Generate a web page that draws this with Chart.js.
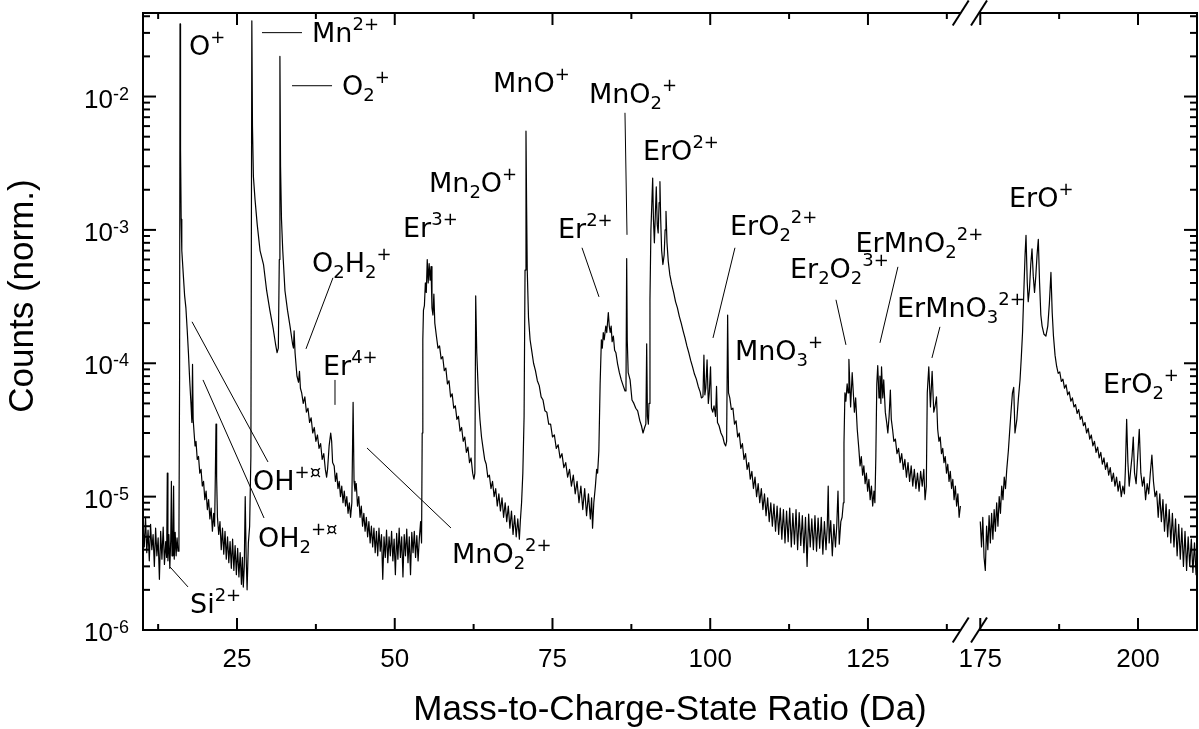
<!DOCTYPE html>
<html lang="en">
<head>
<meta charset="utf-8">
<title>Mass spectrum</title>
<script src="https://cdn.jsdelivr.net/npm/chart.js@4/dist/chart.umd.min.js"></script>
<style>
   html, body { margin: 0; padding: 0; background: #ffffff; }
   #spectrumChart { display: block; }
</style>
</head>
<body>
<canvas id="spectrumChart" width="1199" height="729"></canvas>
<script>
// spectrum: [mass-to-charge (Da), counts (norm.)]
const spectrumOxygen = [
   [10.1,6.0e-6],[10.3,4.2e-6],[10.5,7.0e-6],[10.7,3.8e-6],[10.9,5.6e-6],[11.1,3.3e-6],[11.3,6.2e-6],[11.5,4.0e-6],
   [11.7,5.2e-6],[11.9,3.0e-6],[12.1,5.8e-6],[12.3,3.6e-6],[12.5,4.9e-6],[12.7,2.4e-6],[12.9,5.5e-6],[13.1,3.4e-6],
   [13.3,5.9e-6],[13.5,3.1e-6],[13.7,4.6e-6],[13.85,3.5e-6],[13.95,1.5e-5],[14.05,3.3e-6],[14.2,5.2e-6],[14.35,2.9e-6],
   [14.5,4.8e-6],[14.6,1.3e-5],[14.7,3.6e-6],[14.85,5.0e-6],[14.95,1.2e-5],[15.05,3.4e-6],[15.2,5.4e-6],[15.35,3.6e-6],
   [15.5,4.9e-6],[15.65,3.9e-6],[15.8,5.5e-6],[15.9,8e-5],[15.97,3.5e-2],[16.05,4e-3],[16.15,1.2e-3],[16.25,7e-4],
   [16.5,4.5e-4],[16.7,3.2e-4],[16.9,2.6e-4],[17.1,1.8e-4],[17.3,1.2e-4],[17.5,7.5e-5],[17.7,5e-5],[17.85,3.6e-5],
   [17.95,9.8e-5],[18.05,3.8e-5],[18.2,3.0e-5],[18.35,2.4e-5],[18.5,2.6e-5],[18.7,1.9e-5],[18.9,2.0e-5],[19.1,1.5e-5],
   [19.3,1.6e-5],[19.5,1.2e-5],[19.7,1.3e-5],[19.9,9.5e-6],[20.1,1.1e-5],[20.3,8.0e-6],[20.5,9.5e-6],[20.7,6.8e-6],
   [20.9,8.2e-6],[21.1,5.5e-6],[21.3,7.5e-6],[21.45,6.0e-6],[21.57,1.5e-5],[21.67,3.5e-5],[21.77,1.4e-5],[21.9,7e-6],
   [22.1,5.2e-6],[22.3,6.5e-6],[22.5,4.0e-6],[22.7,5.8e-6],[22.9,3.7e-6],[23.1,5.5e-6],[23.3,3.4e-6],[23.5,5.0e-6],
   [23.7,3.2e-6],[23.9,4.6e-6],[24.1,2.9e-6],[24.3,4.8e-6],[24.5,2.8e-6],[24.7,4.3e-6],[24.9,2.6e-6],[25.1,4.1e-6],
   [25.3,2.5e-6],[25.5,3.8e-6],[25.7,2.2e-6],[25.85,3.5e-6],[26.0,2.1e-6],[26.15,3.0e-6],[26.3,1.0e-5],[26.45,3.5e-6],
   [26.6,2.0e-6],[26.8,4.5e-6],[27.0,6e-6],[27.2,2e-5]
];

const spectrumManganese = [
   [27.35,3.7e-2],[27.45,6e-3],[27.6,2.5e-3],[27.85,1.7e-3],[28.2,1.1e-3],[28.65,7e-4],[29.2,5.5e-4],[29.7,3.5e-4],
   [30.2,2.5e-4],[30.75,1.8e-4],[31.1,1.4e-4],[31.35,1.2e-4],[31.55,1.3e-4],[31.7,6e-4],[31.8,2.0e-2],[31.9,3e-3],
   [32.05,1.2e-3],[32.25,7e-4],[32.6,3.5e-4],[33.0,2.5e-4],[33.4,1.9e-4],[33.8,1.4e-4],[33.95,1.3e-4],[34.05,1.75e-4],
   [34.2,1.2e-4],[34.5,8e-5],[34.75,7.2e-5],[34.9,8.7e-5],[35.05,6.5e-5],[35.25,6.0e-5],[35.5,5.0e-5],[35.75,5.6e-5],
   [36.0,4.3e-5],[36.25,4.6e-5],[36.5,3.6e-5],[36.75,3.9e-5],[37.0,3.0e-5],[37.25,3.3e-5],[37.5,2.6e-5],[37.75,2.9e-5],
   [38.0,2.3e-5],[38.25,2.5e-5],[38.5,1.9e-5],[38.75,2.1e-5],[39.0,1.6e-5],[39.2,1.4e-5],[39.35,1.6e-5],[39.6,2.4e-5],
   [39.85,3.0e-5],[40.0,2.6e-5],[40.15,1.8e-5],[40.4,1.7e-5],[40.6,1.3e-5],[40.8,1.5e-5],[41.0,1.15e-5],[41.2,1.3e-5],
   [41.4,1.0e-5],[41.6,1.2e-5],[41.8,9.0e-6],[42.0,1.1e-5],[42.2,8.5e-6],[42.4,1.0e-5],[42.6,7.5e-6],[42.8,9.0e-6],
   [43.0,7.0e-6],[43.2,9e-6],[43.4,5.1e-5],[43.55,1.3e-5],[43.7,1.1e-5],[43.9,1.25e-5],[44.1,8.5e-6],[44.3,1.0e-5],
   [44.5,7.0e-6],[44.7,8.5e-6],[44.9,6.0e-6],[45.1,7.5e-6],[45.3,5.5e-6],[45.5,7.0e-6],[45.7,5.0e-6],[45.9,6.5e-6],
   [46.1,4.5e-6],[46.3,6.0e-6],[46.5,4.2e-6],[46.7,5.8e-6],[46.9,3.8e-6],[47.1,5.5e-6],[47.3,3.6e-6],[47.5,5.8e-6],
   [47.7,3.9e-6],[47.9,5.2e-6],[48.1,2.4e-6],[48.3,5.0e-6],[48.5,3.5e-6],[48.7,5.6e-6],[48.9,3.2e-6],[49.1,5.0e-6],
   [49.3,3.6e-6],[49.5,5.5e-6],[49.7,3.3e-6],[49.9,4.8e-6],[50.1,2.6e-6],[50.3,5.3e-6],[50.5,3.4e-6],[50.7,5.8e-6],
   [50.9,3.5e-6],[51.1,5.0e-6],[51.3,2.5e-6],[51.5,5.2e-6],[51.7,3.6e-6],[51.9,5.7e-6],[52.1,3.2e-6],[52.3,5.0e-6],
   [52.5,2.6e-6],[52.7,5.4e-6],[52.9,3.8e-6],[53.1,5.5e-6],[53.3,3.5e-6],[53.5,5.1e-6],[53.7,3.3e-6],[53.9,4.9e-6],
   [54.1,6.5e-6],[54.25,4.5e-6]
];

const spectrumErbium3 = [
   [54.35,3e-5],[54.45,1.5e-4],[54.55,2.5e-4],[54.7,2.7e-4],[54.85,4.0e-4],[55.0,3.4e-4],[55.15,6.0e-4],[55.3,4.0e-4],
   [55.45,5.6e-4],[55.6,4.2e-4],[55.75,5.3e-4],[55.9,2.6e-4],[56.05,2.3e-4],[56.2,3.3e-4],[56.35,2.0e-4],[56.6,1.6e-4],
   [56.85,1.3e-4],[57.1,1.35e-4],[57.35,1.08e-4],[57.6,1.12e-4],[57.85,8.8e-5],[58.1,9.2e-5],[58.35,7.0e-5],[58.6,7.4e-5],
   [58.85,5.6e-5],[59.1,5.9e-5],[59.35,4.6e-5],[59.6,4.8e-5],[59.85,3.8e-5],[60.1,4.0e-5],[60.35,3.1e-5],[60.6,3.3e-5],
   [60.85,2.6e-5],[61.1,2.8e-5],[61.35,2.15e-5],[61.6,2.35e-5],[61.85,1.8e-5],[62.1,1.95e-5],[62.35,1.5e-5],[62.55,1.35e-5],
   [62.7,1.5e-5],[62.83,3.2e-4],[63.0,1.2e-4],[63.25,6e-5],
   [63.5,3.8e-5],[63.75,2.8e-5],[64.0,2.3e-5],[64.25,1.9e-5],[64.5,1.75e-5],[64.75,1.4e-5],[65.0,1.45e-5],[65.25,1.15e-5],
   [65.5,1.3e-5],[65.75,1.0e-5],[66.0,1.15e-5],[66.25,8.5e-6],[66.5,1.05e-5],[66.75,7.8e-6],[67.0,9.8e-6],[67.25,7.0e-6],
   [67.5,9.0e-6],[67.75,6.5e-6],[68.0,8.5e-6],[68.25,5.8e-6],[68.5,7.8e-6],[68.75,5.2e-6],[69.0,7.2e-6],[69.25,5.0e-6],
   [69.5,6.8e-6],[69.75,4.8e-6],[69.9,6.5e-6],[70.1,9e-6],[70.3,1.5e-5],[70.5,4e-5],[70.65,5e-4],[70.8,5.5e-3],
   [70.9,1.5e-3],[71.0,5e-4],[71.2,2.2e-4],[71.45,1.5e-4],[71.7,1.25e-4],[72.0,1.0e-4],[72.3,8.8e-5],[72.6,7.4e-5],
   [72.9,6.8e-5],[73.2,5.6e-5],[73.5,5.3e-5],[73.8,4.4e-5],[74.1,4.3e-5],[74.4,3.5e-5],[74.7,3.5e-5],[75.0,2.8e-5],
   [75.3,2.9e-5],[75.6,2.3e-5],[75.9,2.45e-5],[76.2,1.95e-5],[76.5,2.1e-5],[76.8,1.65e-5],[77.1,1.8e-5],[77.4,1.4e-5],
   [77.7,1.6e-5],[78.0,1.2e-5],[78.3,1.45e-5],[78.6,1.05e-5],[78.9,1.3e-5],[79.2,9.0e-6],[79.5,1.2e-5],[79.8,8.0e-6],
   [80.1,1.15e-5],[80.4,7.2e-6],[80.7,1.05e-5],[81.0,6.8e-6],[81.2,9.8e-6],[81.35,5.8e-6],[81.55,9.0e-6]
];

const spectrumErbium2 = [
   [81.8,1.2e-5],[82.0,1.6e-5],[82.15,1.5e-5],[82.35,2.2e-5],[82.55,7e-5],[82.75,1.5e-4],[82.9,1.3e-4],[83.05,1.7e-4],
   [83.2,1.5e-4],[83.45,1.9e-4],[83.6,1.7e-4],[83.85,2.4e-4],[84.0,1.9e-4],[84.15,1.7e-4],[84.3,1.9e-4],[84.45,1.45e-4],
   [84.65,1.6e-4],[84.85,1.25e-4],[85.05,1.2e-4],[85.3,1.0e-4],[85.6,8.5e-5],[85.9,7.5e-5],[86.2,6.8e-5],[86.5,6.2e-5],
   [86.65,6.5e-5],[86.76,6.1e-4],[86.85,1.5e-4],[87.0,8.5e-5],[87.3,7.5e-5],[87.6,5.3e-5],[87.9,5.0e-5],[88.2,4.6e-5],
   [88.5,4.4e-5],[88.85,3.7e-5],[89.1,3.4e-5],[89.35,3.0e-5],[89.6,3.3e-5],[89.8,3.5e-5],[89.93,1.4e-4],[90.05,4e-5],
   [90.2,3.5e-5],[90.3,5.0e-5],[90.45,3e-4],[90.6,1.0e-3],[90.75,1.6e-3],[90.88,2.45e-3],[91.0,1.2e-3],[91.15,8.0e-4],
   [91.3,1.3e-3],[91.45,2.1e-3],[91.6,1.1e-3],[91.75,9.5e-4],[91.9,1.6e-3],[92.03,2.3e-3],[92.15,1.2e-3],[92.3,7.0e-4],
   [92.5,5.5e-4],[92.7,6.5e-4],[92.85,1.0e-3],[92.99,1.38e-3],[93.15,8e-4],[93.35,5.8e-4],[93.6,4.6e-4],[93.9,3.9e-4],
   [94.2,3.4e-4],[94.5,2.9e-4],[94.8,2.6e-4],[95.1,2.25e-4],[95.4,2.0e-4],[95.7,1.75e-4],[96.0,1.55e-4],[96.3,1.35e-4],
   [96.6,1.2e-4],[96.9,1.05e-4],[97.2,9.4e-5],[97.5,8.3e-5],[97.8,7.6e-5],[98.1,6.7e-5],[98.4,6.1e-5],[98.6,5.5e-5],
   [98.85,5.6e-5],[99.0,1.15e-4],[99.15,5.8e-5],[99.3,6.5e-5],[99.5,1.06e-4],[99.7,5.0e-5],[99.85,6.0e-5],[100.05,9.4e-5],
   [100.2,4.6e-5],[100.4,4.3e-5],[100.6,4.8e-5],[100.85,4.0e-5],[101.0,6.7e-5],[101.15,3.6e-5],[101.4,3.4e-5],[101.7,3.0e-5],
   [102.0,2.8e-5],[102.25,2.5e-5],[102.45,2.4e-5],[102.6,2.6e-5],[102.76,2.3e-4],[102.9,6e-5]
];

const spectrumTail = [
   [103.1,5.5e-5],[103.35,4.5e-5],[103.6,4.6e-5],[103.85,3.5e-5],[104.1,3.7e-5],[104.35,2.8e-5],[104.6,3.0e-5],[104.85,2.3e-5],
   [105.1,2.5e-5],[105.35,1.9e-5],[105.6,2.1e-5],[105.85,1.6e-5],[106.1,1.8e-5],[106.35,1.35e-5],[106.6,1.55e-5],[106.85,1.15e-5],
   [107.1,1.4e-5],[107.35,1.0e-5],[107.6,1.25e-5],[107.85,9.0e-6],[108.1,1.15e-5],[108.35,8.0e-6],[108.6,1.05e-5],[108.85,7.2e-6],
   [109.1,9.8e-6],[109.35,6.5e-6],[109.6,9.0e-6],[109.85,6.0e-6],[110.1,8.8e-6],[110.35,5.5e-6],[110.6,8.5e-6],[110.85,5.2e-6],
   [111.1,8.2e-6],[111.35,4.8e-6],[111.6,8.0e-6],[111.85,4.5e-6],[112.1,7.8e-6],[112.35,4.6e-6],[112.6,8.2e-6],[112.85,4.2e-6],
   [113.1,7.5e-6],[113.35,4.4e-6],[113.6,8.0e-6],[113.85,4.0e-6],[114.1,7.6e-6],[114.35,4.3e-6],[114.6,7.2e-6],[114.85,3.8e-6],
   [115.1,7.0e-6],[115.35,3.0e-6],[115.6,7.4e-6],[115.85,4.2e-6],[116.1,6.8e-6],[116.35,4.0e-6],[116.6,7.2e-6],[116.85,3.9e-6],
   [117.1,6.9e-6],[117.35,4.1e-6],[117.6,7.0e-6],[117.85,3.7e-6],[118.1,6.5e-6],[118.35,4.0e-6],[118.55,6.0e-6],[118.7,1.2e-5],
   [118.85,4.5e-6],[119.1,6.6e-6],[119.35,3.6e-6],[119.6,6.2e-6],[119.85,4.2e-6],[120.05,6.0e-6],[120.25,1.1e-5],[120.45,4.4e-6],
   [120.7,6.5e-6],[120.9,7e-6],[121.1,9e-6],[121.2,2.5e-5],[121.35,6e-5],[121.5,5.2e-5],[121.7,7e-5],[121.85,6e-5],
   [121.98,1.07e-4],[122.25,4.7e-5],[122.5,8.5e-5],[122.85,4.3e-5],[123.05,5.5e-5],[123.3,3.2e-5],[123.55,2.3e-5],[123.75,1.7e-5],
   [123.95,2.0e-5],[124.15,1.45e-5],[124.35,1.7e-5],[124.55,1.25e-5],[124.75,1.5e-5],[124.95,1.1e-5],[125.15,1.35e-5],[125.35,9.5e-6],
   [125.55,1.2e-5],[125.75,8.5e-6],[125.95,1.1e-5],[126.1,9e-6],[126.25,2e-5],[126.4,7e-5],[126.55,9.6e-5],[126.75,5.5e-5],
   [126.9,8e-5],[127.05,5e-5],[127.15,9.4e-5],[127.35,5.5e-5],[127.5,7.5e-5],[127.75,4.3e-5],[128.0,3.5e-5],[128.15,3.0e-5],
   [128.35,4e-5],[128.55,6.3e-5],[128.7,3.8e-5],[128.9,3.2e-5],[129.1,2.6e-5],[129.35,2.7e-5],[129.6,2.1e-5],[129.85,2.3e-5],
   [130.1,1.8e-5],[130.35,2.1e-5],[130.6,1.6e-5],[130.85,1.9e-5],[131.1,1.4e-5],[131.35,1.8e-5],[131.6,1.3e-5],[131.85,1.7e-5],
   [132.1,1.2e-5],[132.35,1.6e-5],[132.6,1.15e-5],[132.85,1.5e-5],[133.1,1.1e-5],[133.35,1.55e-5],[133.6,1.2e-5],[133.85,1.6e-5],
   [134.05,9.5e-6],[134.25,1.2e-5],[134.4,6e-5],[134.64,9.4e-5],[134.9,4.7e-5],[135.17,8.7e-5],[135.43,4.3e-5],[135.65,4.8e-5],
   [135.86,5.6e-5],[136.05,3.2e-5],[136.25,2.6e-5],[136.45,2.8e-5],[136.65,2.1e-5],[136.85,2.3e-5],[137.05,1.8e-5],[137.25,2.0e-5],
   [137.45,1.5e-5],[137.65,1.75e-5],[137.85,1.3e-5],[138.05,1.55e-5],[138.25,1.15e-5],[138.45,1.35e-5],[138.65,9.5e-6],[138.85,1.2e-5],
   [139.05,8.5e-6],[139.25,1.05e-5],[139.45,7.0e-6],[139.65,8.5e-6]
];

const spectrumHigh = [
   [175.0,6.5e-6],[175.2,4.2e-6],[175.4,7.0e-6],[175.6,3.5e-6],[175.8,2.8e-6],[176.0,6.0e-6],[176.2,4.0e-6],[176.4,7.2e-6],
   [176.6,4.5e-6],[176.8,7.5e-6],[177.0,4.8e-6],[177.2,8.0e-6],[177.4,5.5e-6],[177.6,9.0e-6],[177.8,6.0e-6],[178.0,1.0e-5],
   [178.2,7.5e-6],[178.4,1.2e-5],[178.6,9.5e-6],[178.8,1.4e-5],[179.0,1.15e-5],[179.2,1.6e-5],[179.45,2.2e-5],[179.7,3.3e-5],
   [179.9,4.5e-5],[180.1,6.0e-5],[180.3,6.6e-5],[180.5,3.0e-5],[180.8,3.8e-5],[181.05,5.5e-5],[181.3,7.5e-5],[181.5,1.1e-4],
   [181.7,1.7e-4],[181.9,3.4e-4],[182.1,6.5e-4],[182.25,9.1e-4],[182.45,4.0e-4],[182.6,2.9e-4],[182.8,3.6e-4],[183.0,5.5e-4],
   [183.2,7.2e-4],[183.4,4.5e-4],[183.6,3.4e-4],[183.8,4.5e-4],[184.0,6.5e-4],[184.2,8.5e-4],[184.4,4.0e-4],[184.6,2.3e-4],
   [184.8,1.9e-4],[185.1,1.65e-4],[185.4,1.6e-4],[185.7,1.9e-4],[185.95,2.8e-4],[186.2,4.8e-4],[186.4,2.4e-4],[186.6,1.6e-4],
   [186.85,1.15e-4],[187.1,9.5e-5],[187.35,8.4e-5],[187.6,8.6e-5],[187.85,7.3e-5],[188.1,7.6e-5],[188.35,6.5e-5],[188.6,6.9e-5],
   [188.85,5.8e-5],[189.1,6.1e-5],[189.35,5.2e-5],[189.6,5.5e-5],[189.85,4.7e-5],[190.1,4.9e-5],[190.35,4.2e-5],[190.6,4.5e-5],
   [190.85,3.8e-5],[191.1,4.0e-5],[191.35,3.4e-5],[191.6,3.6e-5],[191.85,3.0e-5],[192.1,3.25e-5],[192.35,2.7e-5],[192.6,2.9e-5],
   [192.85,2.4e-5],[193.1,2.6e-5],[193.35,2.15e-5],[193.6,2.35e-5],[193.85,1.95e-5],[194.1,2.15e-5],[194.35,1.75e-5],[194.6,1.95e-5],
   [194.85,1.6e-5],[195.1,1.8e-5],[195.35,1.45e-5],[195.6,1.65e-5],[195.85,1.3e-5],[196.1,1.5e-5],[196.35,1.2e-5],[196.6,1.4e-5],
   [196.85,1.1e-5],[197.1,1.3e-5],[197.35,1.0e-5],[197.6,1.2e-5],[197.85,1.05e-5],[198.0,1.6e-5],[198.2,3.8e-5],
   [198.4,1.8e-5],[198.6,1.2e-5],[198.85,1.6e-5],[199.05,2.0e-5],[199.25,2.8e-5],[199.45,1.5e-5],[199.7,1.25e-5],[199.95,2.0e-5],
   [200.2,3.2e-5],[200.45,1.5e-5],[200.7,1.2e-5],[200.95,1.4e-5],[201.2,9.5e-6],[201.45,1.25e-5],[201.7,1.05e-5],[201.95,1.5e-5],
   [202.2,2.05e-5],[202.45,1.3e-5],[202.7,1.0e-5],[202.95,1.1e-5],[203.2,7.0e-6],[203.45,1.05e-5],[203.7,6.5e-6],[203.95,9.5e-6],
   [204.2,5.5e-6],[204.45,8.8e-6],[204.7,5.0e-6],[204.95,8.0e-6],[205.2,4.5e-6],[205.45,7.5e-6],[205.7,4.2e-6],[205.95,6.8e-6],
   [206.2,3.6e-6],[206.45,6.2e-6],[206.7,3.4e-6],[206.95,5.8e-6],[207.2,3.0e-6],[207.45,5.5e-6],[207.7,2.8e-6],[207.95,5.0e-6],
   [208.2,3.0e-6],[208.45,4.8e-6],[208.7,2.7e-6],[208.95,4.5e-6],[209.2,2.6e-6],[209.4,4.0e-6]
];

// axis ticks (Da) and decades of the log axis
const majorTicksDa = [25, 50, 75, 100, 125, 175, 200];
const minorTicksDa = [12.5, 37.5, 62.5, 87.5, 112.5, 137.5, 187.5];
const decadeExponents = [-6, -5, -4, -3, -2];

// ion labels: text with _{sub} / ^{sup}, anchored at (mass, log10 counts) of the left baseline
const ionLabels = [
   { text: "O^{+}", mass: 17.39, logCount: -1.686 },
   { text: "Mn^{2+}", mass: 36.89, logCount: -1.589 },
   { text: "O_{2}^{+}", mass: 41.64, logCount: -1.987 },
   { text: "O_{2}H_{2}^{+}", mass: 36.89, logCount: -3.314 },
   { text: "Er^{4+}", mass: 38.63, logCount: -4.087 },
   { text: "OH^{+¤}", mass: 27.54, logCount: -4.95 },
   { text: "OH_{2}^{+¤}", mass: 28.33, logCount: -5.377 },
   { text: "Si^{2+}", mass: 17.55, logCount: -5.872 },
   { text: "MnO_{2}^{2+}", mass: 59.07, logCount: -5.497 },
   { text: "Er^{3+}", mass: 51.31, logCount: -3.052 },
   { text: "Mn_{2}O^{+}", mass: 55.43, logCount: -2.714 },
   { text: "MnO^{+}", mass: 65.57, logCount: -1.964 },
   { text: "MnO_{2}^{+}", mass: 80.78, logCount: -2.047 },
   { text: "ErO^{2+}", mass: 89.34, logCount: -2.474 },
   { text: "Er^{2+}", mass: 75.87, logCount: -3.059 },
   { text: "ErO_{2}^{2+}", mass: 103.13, logCount: -3.037 },
   { text: "MnO_{3}^{+}", mass: 103.92, logCount: -3.975 },
   { text: "Er_{2}O_{2}^{3+}", mass: 112.64, logCount: -3.359 },
   { text: "ErMnO_{2}^{2+}", mass: 123.03, logCount: -3.164 },
   { text: "ErMnO_{3}^{2+}", mass: 129.6, logCount: -3.652 },
   { text: "ErO^{+}", mass: 179.56, logCount: -2.827 },
   { text: "ErO_{2}^{+}", mass: 194.45, logCount: -4.222 }
];

// leader lines: [mass1, log10 counts1, mass2, log10 counts2]
const leaderLines = [
   [28.96, -1.521, 35.30, -1.521],
   [33.72, -1.919, 40.06, -1.919],
   [40.21, -3.359, 35.93, -3.892],
   [40.53, -4.125, 40.53, -4.312],
   [17.87, -3.689, 29.91, -4.74],
   [19.61, -4.125, 29.28, -5.16],
   [14.38, -5.527, 17.23, -5.677],
   [45.6, -4.635, 58.91, -5.235],
   [86.49, -2.122, 86.81, -3.037],
   [79.68, -3.134, 82.37, -3.502],
   [103.92, -3.134, 100.44, -3.81],
   [119.93, -3.524, 121.51, -3.862],
   [129.75, -3.277, 126.9, -3.847],
   [136.41, -3.727, 135.14, -3.96]
];

// broken x axis: masses above the break are shifted left on the shared axis
const AXIS_MIN = 10.1;
const AXIS_MAX = 177.15;
const BREAK_SHIFT = 32.2;
const BREAK_MARKS = [139.7, 142.6];
const COUNT_MIN = 1e-6;
const COUNT_MAX = 0.0423;

const AXIS_FONT = "'Liberation Sans', Arial, sans-serif";
const LABEL_FONT = "'DejaVu Sans', Verdana, sans-serif";

document.addEventListener("DOMContentLoaded", initSpectrumChart);

function toAxis(mass) {
   return mass > 150 ? mass - BREAK_SHIFT : mass;
}

function toPoints(pairs) {
   return pairs.map(([mass, count]) => ({ x: toAxis(mass), y: count }));
}

function parseRichText(text) {
   const parts = [];
   const pattern = /([_^])\{([^}]*)\}|([^_^]+)/g;
   let match;
   while ((match = pattern.exec(text)) !== null) {
      if (match[3]) {
         parts.push({ text: match[3], mode: "normal" });
      } else {
         parts.push({ text: match[2], mode: match[1] === "^" ? "sup" : "sub" });
      }
   }
   return parts;
}

function drawRichText(ctx, text, x, y) {
   let cursor = x;
   parseRichText(text).forEach((part) => {
      let offset = 0;
      if (part.mode === "normal") {
         ctx.font = `27px ${LABEL_FONT}`;
      } else {
         ctx.font = `18px ${LABEL_FONT}`;
         offset = part.mode === "sup" ? -12 : 6;
      }
      ctx.fillText(part.text, cursor, y + offset);
      cursor += ctx.measureText(part.text).width;
   });
}

function drawLine(ctx, x1, y1, x2, y2) {
   ctx.beginPath();
   ctx.moveTo(x1, y1);
   ctx.lineTo(x2, y2);
   ctx.stroke();
}

const spectrumFramePlugin = {
   id: "spectrumFrame",
   afterDatasetsDraw(chart) {
      const { ctx, chartArea: area, scales } = chart;
      const xScale = scales.x;
      const yScale = scales.y;

      ctx.save();
      ctx.strokeStyle = "#000000";
      ctx.fillStyle = "#000000";
      ctx.lineCap = "butt";

      // frame
      ctx.lineWidth = 2;
      ctx.strokeRect(area.left, area.top, area.right - area.left, area.bottom - area.top);

      // x ticks, pointing inward on bottom and top
      const drawXTick = (mass, length) => {
         const px = xScale.getPixelForValue(toAxis(mass));
         drawLine(ctx, px, area.bottom, px, area.bottom - length);
         drawLine(ctx, px, area.top, px, area.top + length);
      };
      majorTicksDa.forEach((mass) => drawXTick(mass, 12));
      minorTicksDa.forEach((mass) => drawXTick(mass, 6));

      // y ticks on left and right
      const drawYTick = (value, length) => {
         const py = yScale.getPixelForValue(value);
         drawLine(ctx, area.left, py, area.left + length, py);
         drawLine(ctx, area.right, py, area.right - length, py);
      };
      decadeExponents.forEach((exponent) => {
         drawYTick(10 ** exponent, 13);
         for (let k = 2; k <= 9; k++) {
            const value = k * 10 ** exponent;
            if (value < COUNT_MAX) drawYTick(value, 7);
         }
      });

      // axis break
      const breakPixels = BREAK_MARKS.map((value) => xScale.getPixelForValue(value));
      ctx.fillStyle = "#ffffff";
      [area.bottom, area.top].forEach((axisY) => {
         ctx.fillRect(breakPixels[0], axisY - 2, breakPixels[1] - breakPixels[0], 4);
      });
      ctx.fillStyle = "#000000";
      [area.bottom, area.top].forEach((axisY) => {
         breakPixels.forEach((px) => drawLine(ctx, px - 8, axisY + 12.5, px + 8, axisY - 12.5));
      });

      // x tick labels
      ctx.font = `26px ${AXIS_FONT}`;
      ctx.textAlign = "center";
      ctx.textBaseline = "alphabetic";
      majorTicksDa.forEach((mass) => {
         ctx.fillText(String(mass), xScale.getPixelForValue(toAxis(mass)), area.bottom + 37);
      });

      // y tick labels 10^n
      ctx.textAlign = "left";
      decadeExponents.forEach((exponent) => {
         const py = yScale.getPixelForValue(10 ** exponent);
         ctx.font = `26px ${AXIS_FONT}`;
         const baseWidth = ctx.measureText("10").width;
         ctx.font = `18px ${AXIS_FONT}`;
         const supText = String(exponent);
         const supWidth = ctx.measureText(supText).width;
         const startX = area.left - 14 - baseWidth - supWidth;
         ctx.font = `26px ${AXIS_FONT}`;
         ctx.fillText("10", startX, py + 11);
         ctx.font = `18px ${AXIS_FONT}`;
         ctx.fillText(supText, startX + baseWidth, py + 3);
      });

      // axis titles
      ctx.font = `35px ${AXIS_FONT}`;
      ctx.textAlign = "center";
      ctx.fillText("Mass-to-Charge-State Ratio (Da)", (area.left + area.right) / 2, 720);
      ctx.save();
      ctx.translate(33, 296);
      ctx.rotate(-Math.PI / 2);
      ctx.fillText("Counts (norm.)", 0, 0);
      ctx.restore();

      // leader lines and ion labels
      ctx.lineWidth = 1;
      leaderLines.forEach(([m1, c1, m2, c2]) => {
         drawLine(
            ctx,
            xScale.getPixelForValue(toAxis(m1)), yScale.getPixelForValue(10 ** c1),
            xScale.getPixelForValue(toAxis(m2)), yScale.getPixelForValue(10 ** c2)
         );
      });
      ctx.textAlign = "left";
      ionLabels.forEach((label) => {
         drawRichText(
            ctx,
            label.text,
            xScale.getPixelForValue(toAxis(label.mass)),
            yScale.getPixelForValue(10 ** label.logCount)
         );
      });

      ctx.restore();
   }
};

function initSpectrumChart() {
   const canvas = document.getElementById("spectrumChart");
   if (!canvas || typeof Chart === "undefined") return;

   const lowRange = [
      ...spectrumOxygen,
      ...spectrumManganese,
      ...spectrumErbium3,
      ...spectrumErbium2,
      ...spectrumTail
   ];

   const lineStyle = {
      borderColor: "#000000",
      borderWidth: 1.2,
      borderJoinStyle: "round",
      pointRadius: 0,
      tension: 0,
      fill: false
   };

   new Chart(canvas, {
      type: "line",
      data: {
         datasets: [
            { label: "Spectrum (low)", data: toPoints(lowRange), ...lineStyle },
            { label: "Spectrum (high)", data: toPoints(spectrumHigh), ...lineStyle }
         ]
      },
      options: {
         responsive: false,
         animation: false,
         events: [],
         layout: {
            padding: { left: 143, right: 2, top: 13, bottom: 99 }
         },
         plugins: {
            legend: { display: false },
            tooltip: { enabled: false }
         },
         scales: {
            x: { type: "linear", min: AXIS_MIN, max: AXIS_MAX, display: false },
            y: { type: "logarithmic", min: COUNT_MIN, max: COUNT_MAX, display: false }
         }
      },
      plugins: [spectrumFramePlugin]
   });
}
</script>
</body>
</html>
